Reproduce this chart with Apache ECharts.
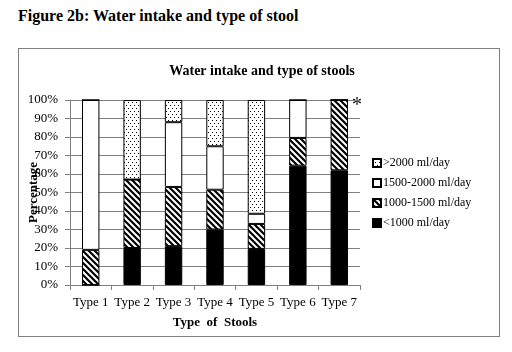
<!DOCTYPE html>
<html>
<head>
<meta charset="UTF-8">
<title>Water intake and type of stools</title>
<script src="https://cdn.jsdelivr.net/npm/echarts@6/dist/echarts.min.js"></script>
<style>
  html, body { margin: 0; padding: 0; background: #fff; }
  #fig { position: absolute; left: 18px; top: 7px; font: bold 16px "Liberation Serif", "Times New Roman", serif; color: #000; }
  #box { position: absolute; left: 18px; top: 48px; width: 480px; height: 287px; border: 1px solid #7f7f7f; }
  #chart { position: absolute; left: 0; top: 0; width: 512px; height: 352px; }
</style>
</head>
<body>
<div id="fig">Figure 2b: Water intake and type of stool</div>
<div id="box"></div>
<div id="chart"></div>
<script>
// data (percent of each stool type)
var categories = ['Type 1', 'Type 2', 'Type 3', 'Type 4', 'Type 5', 'Type 6', 'Type 7'];
var below1000 = [0, 20, 21, 30, 19.5, 64.5, 62];
var from1000to1500 = [19, 37, 32, 21.5, 13.5, 15, 38];
var from1500to2000 = [81, 0, 35, 23.5, 5.5, 20.5, 0];
var above2000 = [0, 43, 12, 25, 61.5, 0, 0];
var yTicks = ['0%', '10%', '20%', '30%', '40%', '50%', '60%', '70%', '80%', '90%', '100%'];

var serif = '"Liberation Serif", "Times New Roman", serif';

// fill patterns
function hatchPattern() {
  var c = document.createElement('canvas');
  c.width = 6; c.height = 6;
  var g = c.getContext('2d');
  g.fillStyle = '#fff'; g.fillRect(0, 0, 6, 6);
  g.strokeStyle = '#000'; g.lineWidth = 2.2;
  g.beginPath();
  g.moveTo(-3, -3); g.lineTo(9, 9);
  g.moveTo(-3, 3); g.lineTo(3, 9);
  g.moveTo(3, -3); g.lineTo(9, 3);
  g.stroke();
  return c;
}
function dotPattern() {
  var c = document.createElement('canvas');
  c.width = 4; c.height = 6;
  var g = c.getContext('2d');
  g.fillStyle = '#fff'; g.fillRect(0, 0, 4, 6);
  g.fillStyle = '#000';
  g.fillRect(0, 0, 1, 1);
  g.fillRect(2, 3, 1, 1);
  return c;
}

var hatch = { image: hatchPattern(), repeat: 'repeat' };
var dots = { image: dotPattern(), repeat: 'repeat' };

function bar(name, data, color) {
  return {
    name: name,
    type: 'bar',
    stack: 'all',
    barWidth: '42%',
    data: data,
    itemStyle: { color: color, borderColor: '#000', borderWidth: 1 }
  };
}

var option = {
  animation: false,
  textStyle: { fontFamily: serif, color: '#000' },
  title: {
    text: 'Water intake and type of stools',
    left: 257, top: 59, textAlign: 'center',
    textStyle: { fontFamily: serif, fontSize: 14, fontWeight: 'bold', color: '#000' }
  },
  grid: { left: 70, right: 152, top: 100, bottom: 67, outerBoundsMode: 'none' },
  legend: {
    orient: 'vertical',
    left: 367, top: 152,
    icon: 'rect',
    itemWidth: 8, itemHeight: 8, itemGap: 8,
    textStyle: { fontFamily: serif, fontSize: 12, color: '#000', padding: [0, 0, 0, -3] },
    data: ['>2000 ml/day', '1500-2000 ml/day', '1000-1500 ml/day', '<1000 ml/day']
  },
  xAxis: {
    type: 'category',
    data: categories,
    name: 'Type  of  Stools',
    nameLocation: 'middle',
    nameGap: 31,
    nameTextStyle: { fontFamily: serif, fontSize: 13, fontWeight: 'bold', color: '#000' },
    axisLine: { lineStyle: { color: '#7f7f7f' } },
    axisTick: { show: true, length: 5, alignWithLabel: false, lineStyle: { color: '#7f7f7f' } },
    axisLabel: { interval: 0, margin: 11, fontFamily: serif, fontSize: 13, color: '#000' }
  },
  yAxis: {
    type: 'value',
    min: 0, max: 100, interval: 10,
    name: 'Percentage',
    nameLocation: 'middle',
    nameRotate: 90,
    nameGap: 30,
    nameMoveOverlap: false,
    nameTextStyle: { fontFamily: serif, fontSize: 13, fontWeight: 'bold', color: '#000' },
    axisLine: { show: true, lineStyle: { color: '#7f7f7f' } },
    axisTick: { show: true, length: 5, lineStyle: { color: '#7f7f7f' } },
    splitLine: { lineStyle: { color: '#7f7f7f', width: 1 } },
    axisLabel: {
      margin: 12, fontFamily: serif, fontSize: 13, color: '#000',
      formatter: function (v) { return yTicks[Math.round(v / 10)]; }
    }
  },
  graphic: [{
    type: 'text', left: 352, top: 96,
    style: { text: '*', font: '20px ' + serif, fill: '#000' }
  }],
  series: [
    bar('<1000 ml/day', below1000, '#000'),
    bar('1000-1500 ml/day', from1000to1500, hatch),
    bar('1500-2000 ml/day', from1500to2000, '#fff'),
    bar('>2000 ml/day', above2000, dots)
  ]
};

var myChart = echarts.init(document.getElementById('chart'));
myChart.setOption(option);
</script>
</body>
</html>
